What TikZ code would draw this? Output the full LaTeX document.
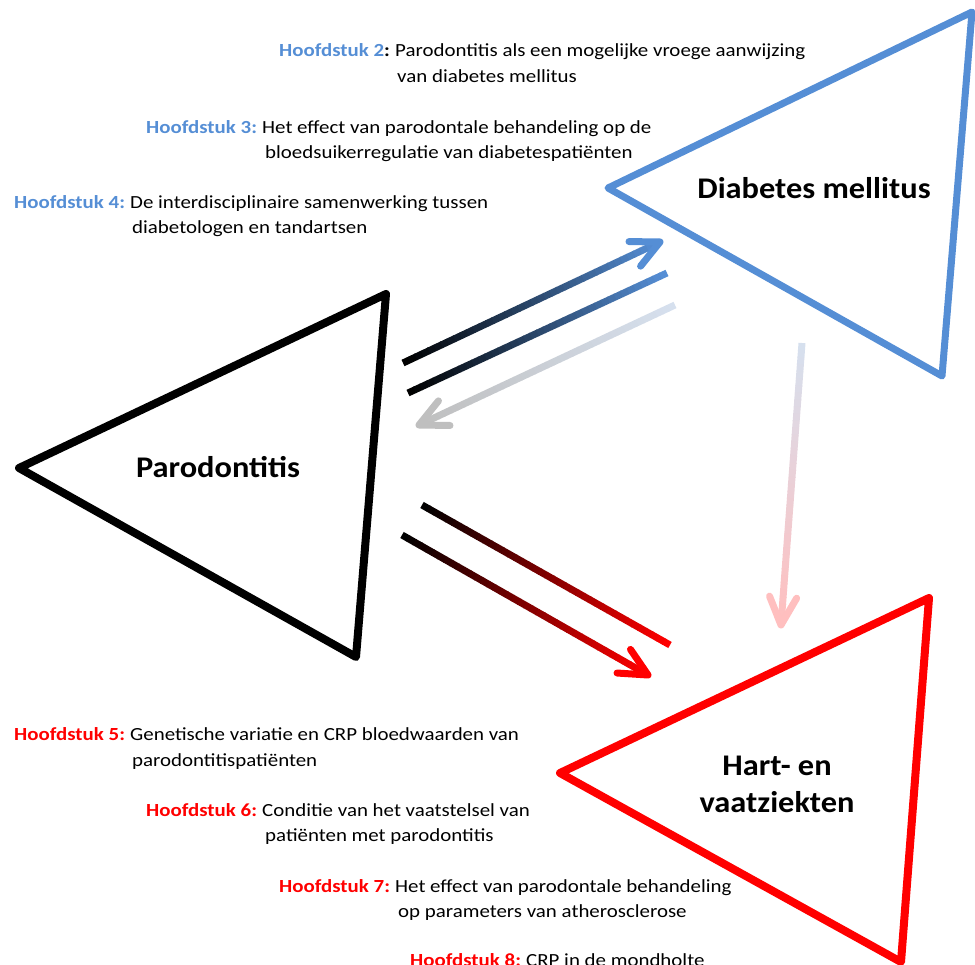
\documentclass[tikz,border=0pt]{standalone}
\usepackage{fontspec}
\setmainfont{Carlito}
\newfontfamily\bodyfont[FakeStretch=1.13]{Carlito}
\newfontfamily\titlefont[FakeStretch=1.08]{Carlito}
\usetikzlibrary{calc}
\definecolor{dmblue}{RGB}{85,142,213}
\definecolor{hvred}{RGB}{255,0,0}
\definecolor{lightbl}{RGB}{214,224,238}
\definecolor{lightgr}{RGB}{191,191,191}
\definecolor{lightrd}{RGB}{255,191,191}
\newcommand\gradseg[4]{% from, to, start colour, end colour
  \foreach \i in {0,...,39}{%
    \pgfmathsetmacro\ta{\i/40}%
    \pgfmathsetmacro\tb{min(1,(\i+1.1)/40)}%
    \pgfmathsetmacro\pc{100-\i*100/39}%
    \draw[shaft,#3!\pc!#4] ($(#1)!\ta!(#2)$) -- ($(#1)!\tb!(#2)$);
  }}
\newcommand\chevron[3]{% tip, from, colour
  \draw[shaft,#3,line cap=round,line join=round]
    ($(#1)!31pt!26:(#2)$) -- (#1) -- ($(#1)!31pt!-26:(#2)$);}
\tikzset{
  tri/.style={line width=8pt,line join=round},
  shaft/.style={line width=7pt,line cap=butt},
  hd/.style={anchor=base west,inner sep=0pt,font=\bodyfont\fontsize{18.5}{22}\selectfont\bfseries},
  body/.style={anchor=base west,inner sep=0pt,font=\bodyfont\fontsize{18.5}{22}\selectfont},
  ttl/.style={inner sep=0pt,align=center,font=\titlefont\fontsize{30}{37}\selectfont\bfseries},
}
\begin{document}
\begin{tikzpicture}[x=1pt,y=-1pt]
\useasboundingbox (0,0) rectangle (975,965);
% triangles
\draw[tri,black] (19,468) -- (386,294) -- (356,657) -- cycle;
\draw[tri,dmblue,line width=7pt] (608,188) -- (972,12) -- (942,376) -- cycle;
\draw[tri,hvred] (560,773) -- (929,598) -- (901,962) -- cycle;
% titles
\node[ttl] (dm) at (814,188) {Diabetes mellitus};
\node[ttl] (pa) at (218,467) {Parodontitis};
\node[ttl] (hv) at (777,784) {Hart- en\\vaatziekten};
% connector end points
\coordinate (a1s) at (403,363); \coordinate (a1e) at (660,242);
\coordinate (a2s) at (408,393); \coordinate (a2e) at (667,273);
\coordinate (a3s) at (675,305); \coordinate (a3e) at (419,425);
\coordinate (a4s) at (422,505); \coordinate (a4e) at (670,645);
\coordinate (a5s) at (402,535); \coordinate (a5e) at (648,675);
\coordinate (a6s) at (802,343); \coordinate (a6e) at (781,625);
% connectors
\gradseg{a1s}{a1e}{black}{dmblue}
\chevron{a1e}{a1s}{dmblue}
\gradseg{a2s}{a2e}{black}{dmblue}
\gradseg{a3s}{a3e}{lightbl}{lightgr}
\chevron{a3e}{a3s}{lightgr}
\gradseg{a4s}{a4e}{black}{hvred}
\gradseg{a5s}{a5e}{black}{hvred}
\chevron{a5e}{a5s}{hvred}
\gradseg{a6s}{a6e}{lightbl}{lightrd}
\chevron{a6e}{a6s}{lightrd}
% chapter labels
\node[hd,text=dmblue] (h2) at (279,57) {Hoofdstuk 2\textcolor{black}{:}};
\node[body] (t2a) at (395,57) {Parodontitis als een mogelijke vroege aanwijzing};
\node[body] (t2b) at (397,83) {van diabetes mellitus};
\node[hd,text=dmblue] (h3) at (146,134) {Hoofdstuk 3:};
\node[body] (t3a) at (262,134) {Het effect van parodontale behandeling op de};
\node[body] (t3b) at (265,159) {bloedsuikerregulatie van diabetespatiënten};
\node[hd,text=dmblue] (h4) at (14,209) {Hoofdstuk 4:};
\node[body] (t4a) at (130,209) {De interdisciplinaire samenwerking tussen};
\node[body] (t4b) at (132,234) {diabetologen en tandartsen};
\node[hd,text=hvred] (h5) at (14,740) {Hoofdstuk 5:};
\node[body] (t5a) at (130,740) {Genetische variatie en CRP bloedwaarden van};
\node[body] (t5b) at (132,766) {parodontitispatiënten};
\node[hd,text=hvred] (h6) at (146,816) {Hoofdstuk 6:};
\node[body] (t6a) at (262,816) {Conditie van het vaatstelsel van};
\node[body] (t6b) at (265,841) {patiënten met parodontitis};
\node[hd,text=hvred] (h7) at (279,892) {Hoofdstuk 7:};
\node[body] (t7a) at (395,892) {Het effect van parodontale behandeling};
\node[body] (t7b) at (398,917) {op parameters van atherosclerose};
\node[hd,text=hvred] (h8) at (410,966) {Hoofdstuk 8:};
\node[body] (t8a) at (526,966) {CRP in de mondholte};
\end{tikzpicture}
\end{document}
